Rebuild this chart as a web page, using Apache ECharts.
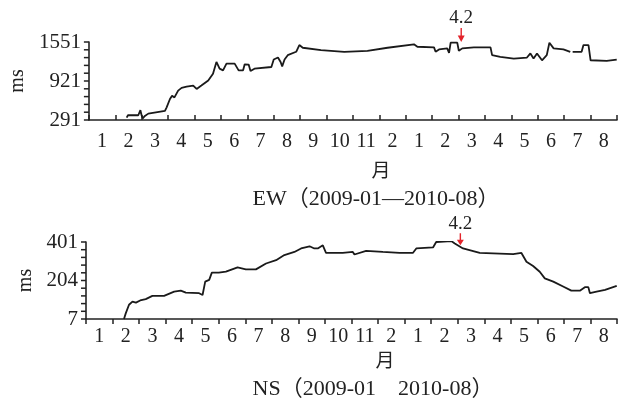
<!DOCTYPE html>
<html>
<head>
<meta charset="utf-8">
<script src="https://cdn.jsdelivr.net/npm/echarts@6/dist/echarts.min.js"></script>
<style>
html, body { margin: 0; padding: 0; background: #fff; }
#main { width: 624px; height: 401px; }
</style>
</head>
<body>
<div id="main"></div>
<script>
// 月份标签（原图中 12 月被标成了 2）
const monthLabels = ['1', '2', '3', '4', '5', '6', '7', '8', '9', '10', '11', '2',
    '1', '2', '3', '4', '5', '6', '7', '8'];

// EW 分量：横坐标为自 2009-01 起的月数
const ewMonth = [1.43, 1.48, 1.87, 1.95, 2.00, 2.04, 2.12, 2.25, 2.88, 2.94, 3.07, 3.15, 3.24, 3.38, 3.51, 3.70,
    3.95, 4.08, 4.26, 4.52, 4.70, 4.83, 4.95, 5.08, 5.21, 5.52, 5.67, 5.84, 5.90, 6.05, 6.12, 6.27,
    6.91, 7.00, 7.16, 7.26, 7.32, 7.41, 7.53, 7.85, 7.97, 8.10, 8.79, 9.67, 10.55, 11.31, 12.31, 12.44,
    13.07, 13.13, 13.26, 13.57, 13.64, 13.70, 13.95, 14.01, 14.14, 14.58, 15.21, 15.27, 15.58, 16.09,
    16.59, 16.72, 16.84, 16.97, 17.16, 17.34, 17.44, 17.60, 17.97, 18.23, 18.27, 18.32, 18.66, 18.73,
    18.92, 19.00, 19.61, 19.99];
const ewValue = [329, 368, 368, 450, 360, 319, 356, 394, 438, 492, 630, 684, 656, 766, 810, 831,
    847, 793, 847, 929, 1038, 1229, 1120, 1093, 1202, 1202, 1093, 1093, 1191, 1186, 1081, 1120,
    1147, 1268, 1300, 1229, 1158, 1268, 1338, 1393, 1502, 1458, 1420, 1393, 1409, 1458, 1513, 1474,
    1464, 1393, 1431, 1448, 1376, 1540, 1540, 1409, 1448, 1464, 1464, 1338, 1311, 1284,
    1300, 1366, 1284, 1366, 1256, 1338, 1539, 1448, 1431, 1393, null, 1393, 1393, 1502,
    1502, 1256, 1245, 1268];
const ewTicks = [291, 921, 1551];

// NS 分量
const nsMonth = [1.43, 1.50, 1.62, 1.75, 1.88, 2.04, 2.25, 2.50, 2.94, 3.32, 3.57, 3.76, 4.26, 4.39, 4.49, 4.64,
    4.74, 5.00, 5.27, 5.71, 6.02, 6.40, 6.78, 7.16, 7.47, 7.85, 8.10, 8.42, 8.60, 8.73, 8.92, 9.04,
    9.67, 10.05, 10.11, 10.55, 11.18, 11.81, 12.31, 12.44, 13.07, 13.19, 13.76, 13.89, 14.20, 14.83,
    15.58, 16.09, 16.40, 16.59, 16.84, 17.09, 17.28, 17.60, 17.97, 18.28, 18.60, 18.79, 18.92, 18.98,
    19.23, 19.55, 19.99];
const nsValue = [7, 37, 80, 96, 91, 102, 109, 125, 125, 147, 152, 142, 139, 130, 198, 207,
    244, 244, 249, 271, 261, 261, 291, 308, 334, 350, 368, 379, 368, 368, 384, 345,
    345, 350, 337, 356, 350, 345, 345, 368, 373, 401, 406, 393, 368, 345,
    342, 339, 345, 300, 278, 249, 215, 198, 173, 152, 152, 170, 170, 139,
    147, 156, 176];
const nsTicks = [7, 204, 401];

// 4.2 标记
const eventMonth = 14.1;
const eventLabel = '4.2';
const ewEventValue = 1551;
const nsEventValue = 384;

const FONT = "'Liberation Serif', 'Noto Sans CJK SC', serif";
const TXT = '#222';
const RED = '#e3242b';
const ARROW = 'path://M3.2,0 H4.8 V10 H3.2 Z M0,8.5 L8,8.5 L4,16 Z';

function pairs(xs, ys) {
    return xs.map(function (x, i) {
        return [x, ys[i] === null ? '-' : ys[i]];
    });
}

// 每两个刻度标签之间再分 5 格
function minorTicks(ticks) {
    let out = [];
    for (let i = 0; i < ticks.length - 1; i++) {
        let step = (ticks[i + 1] - ticks[i]) / 5;
        for (let k = 0; k < 5; k++) out.push([0, ticks[i] + step * k]);
    }
    out.push([0, ticks[ticks.length - 1]]);
    return out;
}

function valueX(gridIndex, inside) {
    return {
        type: 'value', gridIndex: gridIndex, position: 'bottom',
        min: 0, max: 20, interval: 1,
        axisLine: { show: true, onZero: false, lineStyle: { color: TXT, width: 1.6 } },
        axisTick: { show: true, inside: inside, length: 5, lineStyle: { color: TXT, width: 1.5 } },
        axisLabel: { show: false },
        splitLine: { show: false }
    };
}

function labelX(gridIndex, margin) {
    return {
        type: 'category', gridIndex: gridIndex, position: 'bottom',
        data: monthLabels, boundaryGap: true,
        axisLine: { show: false }, axisTick: { show: false },
        axisLabel: { margin: margin, fontFamily: FONT, fontSize: 20, color: TXT, interval: 0 },
        splitLine: { show: false }
    };
}

function valueY(gridIndex, ticks) {
    return {
        type: 'value', gridIndex: gridIndex, position: 'left',
        min: ticks[0], max: ticks[ticks.length - 1],
        name: 'ms', nameLocation: 'middle', nameGap: 46, nameRotate: 90,
        nameTextStyle: { fontFamily: FONT, fontSize: 20, color: TXT },
        axisLine: { show: true, onZero: false, lineStyle: { color: TXT, width: 1.6 } },
        axisTick: { show: false },
        axisLabel: {
            customValues: ticks, margin: 8, fontFamily: FONT, fontSize: 21, color: TXT,
            formatter: function (v) { return String(v); }
        },
        splitLine: { show: false }
    };
}

// y 轴上的短刻度：用自定义系列按轴的比例尺画
function tickSeries(idx, ticks) {
    return {
        type: 'custom', xAxisIndex: idx * 2, yAxisIndex: idx,
        silent: true, clip: false, animation: false,
        data: minorTicks(ticks),
        renderItem: function (params, api) {
            let p = api.coord([0, api.value(1)]);
            return {
                type: 'line',
                shape: { x1: p[0] - 5, y1: p[1], x2: p[0], y2: p[1] },
                style: { stroke: TXT, lineWidth: 1.5 }
            };
        }
    };
}

function lineSeries(idx, data, eventValue, arrowH) {
    return {
        type: 'line', xAxisIndex: idx * 2, yAxisIndex: idx,
        data: data, showSymbol: false, symbol: 'none', connectNulls: false,
        lineStyle: { color: '#1a1a1a', width: 1.8 },
        animation: false,
        markPoint: {
            silent: true,
            symbol: ARROW, symbolSize: [7, arrowH], symbolOffset: [0, '-50%'],
            itemStyle: { color: RED },
            label: {
                show: true, position: 'top', distance: 0, formatter: eventLabel,
                fontFamily: FONT, fontSize: 19, color: TXT
            },
            data: [{ coord: [eventMonth, eventValue] }]
        }
    };
}

let myChart = echarts.init(document.getElementById('main'));
let option = {
    backgroundColor: '#fff',
    animation: false,
    grid: [
        { left: 87, right: 7, top: 42, height: 78 },
        { left: 86, right: 7, top: 242, height: 77 }
    ],
    xAxis: [valueX(0, true), labelX(0, 12), valueX(1, false), labelX(1, 8)],
    yAxis: [valueY(0, ewTicks), valueY(1, nsTicks)],
    series: [
        lineSeries(0, pairs(ewMonth, ewValue), ewEventValue, 14),
        lineSeries(1, pairs(nsMonth, nsValue), nsEventValue, 12),
        tickSeries(0, ewTicks),
        tickSeries(1, nsTicks)
    ],
    graphic: [
        { type: 'text', x: 381, y: 170, style: { text: '月', font: "19px 'Noto Sans CJK SC'", fill: TXT, align: 'center', verticalAlign: 'middle' } },
        { type: 'text', x: 376, y: 199, style: { text: 'EW（2009-01—2010-08）', font: '22px ' + FONT, fill: TXT, align: 'center', verticalAlign: 'middle' } },
        { type: 'text', x: 385, y: 360, style: { text: '月', font: "19px 'Noto Sans CJK SC'", fill: TXT, align: 'center', verticalAlign: 'middle' } },
        { type: 'text', x: 373, y: 389, style: { text: 'NS（2009-01　2010-08）', font: '22px ' + FONT, fill: TXT, align: 'center', verticalAlign: 'middle' } }
    ]
};
myChart.setOption(option);
</script>
</body>
</html>
